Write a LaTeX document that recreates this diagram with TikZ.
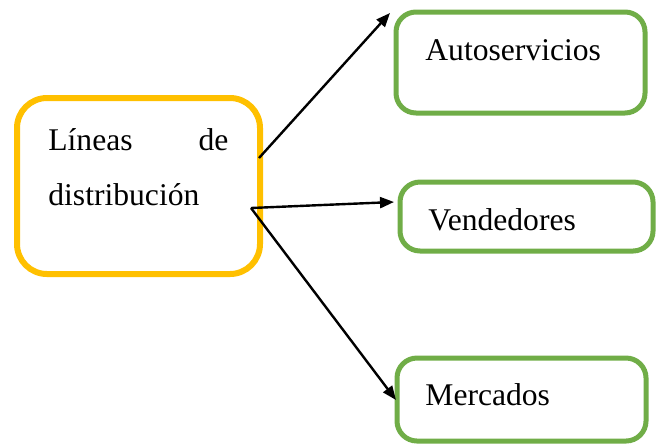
\documentclass[tikz,border=0pt]{standalone}
\usepackage{fontspec}
\setmainfont{Liberation Serif}
\usetikzlibrary{arrows.meta}
\definecolor{boxyellow}{HTML}{FFC000}
\definecolor{boxgreen}{HTML}{70AD47}
\begin{document}
\begin{tikzpicture}[x=0.5pt,y=-0.5pt,
  yellowbox/.style={draw=boxyellow,line width=3pt,rounded corners=15pt,rectangle,inner sep=0pt},
  greenbox/.style={draw=boxgreen,line width=2.5pt,rounded corners=10pt,rectangle,inner sep=0pt},
  txt/.style={inner sep=0pt,anchor=base west,font=\fontsize{15.8}{27.5}\selectfont},
  arr/.style={line width=1.2pt,-{Triangle[length=7pt,width=5.5pt]}}]
\useasboundingbox (0,0) rectangle (656,446);
% boxes
\node[yellowbox,minimum width=121.5pt,minimum height=88pt] (lineas) at (138.5,186) {};
\node[greenbox,minimum width=124.5pt,minimum height=50.5pt] (auto) at (520.5,62.5) {};
\node[greenbox,minimum width=126.5pt,minimum height=34.5pt] (vend) at (526.5,216.5) {};
\node[greenbox,minimum width=124.5pt,minimum height=41.5pt] (merc) at (521.5,399.5) {};
% texts
\node[txt,text width=90pt,align=left] (lineastxt) at (48,150) {Líneas\hfill de\\distribución};
\node[txt] (autotxt) at (425,60) {Autoservicios};
\node[txt] (vendtxt) at (428,230) {Vendedores};
\node[txt] (merctxt) at (425,405) {Mercados};
% connector ends
\coordinate (s1) at (259,158);
\coordinate (s2) at (251,208);
\coordinate (t1) at (390,13);
\coordinate (t2) at (394,202);
\coordinate (t3) at (396,400);
\draw[arr] (s1) -- (t1);
\draw[arr] (s2) -- (t2);
\draw[arr] (s2) -- (t3);
\end{tikzpicture}
\end{document}
